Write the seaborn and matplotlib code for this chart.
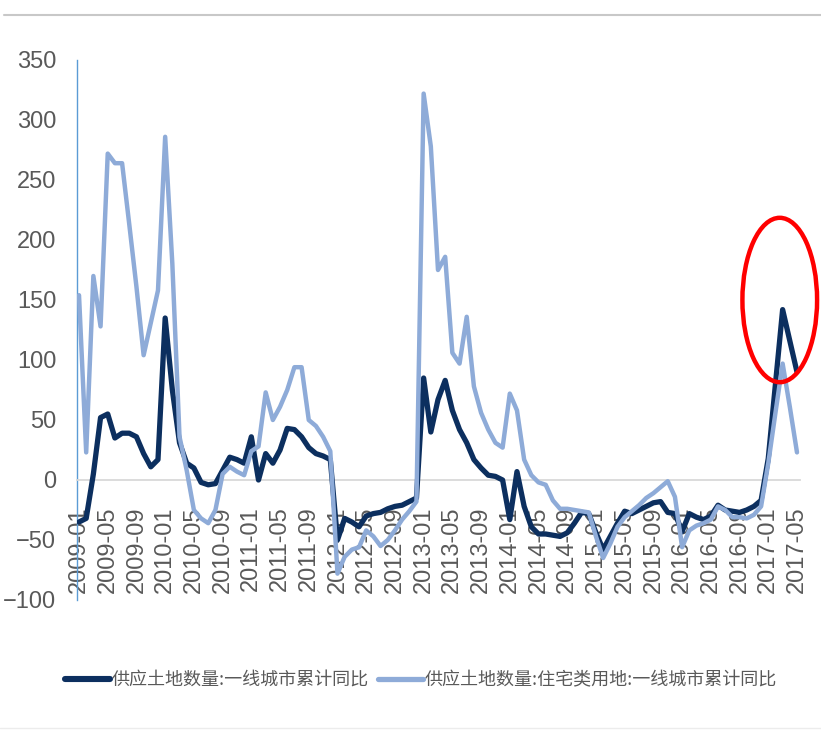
import matplotlib
matplotlib.use("Agg")
import matplotlib.pyplot as plt
from matplotlib.patches import Ellipse
from matplotlib.lines import Line2D
from matplotlib.font_manager import FontProperties
import pandas as pd
import seaborn as sns

# Monthly categories 2009-01 .. 2017-05
months = [f"{y}-{m:02d}" for y in range(2009, 2018) for m in range(1, 13)][:101]

tick_labels = [
    "2009-01", "2009-05", "2009-09", "2010-01", "2010-05", "2010-09",
    "2011-01", "2011-05", "2011-09", "2012-01", "2012-05", "2012-09",
    "2013-01", "2013-05", "2013-09", "2014-01", "2014-05", "2014-09",
    "2015-01", "2015-05", "2015-09", "2016-01", "2016-05", "2016-09",
    "2017-01", "2017-05",
]

name_all = "供应土地数量:一线城市累计同比"
name_res = "供应土地数量:住宅类用地:一线城市累计同比"

# Cumulative YoY (%), first-tier cities, all land supply
supply_all = [
    -35, -32, 5, 52, 55, 35, 39, 39, 36, 22, 11, 17,
    135, 75, 31, 14, 10, -2, -4, -3, 8, 19, 17, 14,
    36, 0, 22, 14, 25, 43, 42, 36, 27, 22, 20, 17,
    -50, -32, -35, -39, -30, -28, -27, -24, -22, -21, -18, -15,
    85, 40, 67, 83, 58, 42, 31, 17, 10, 4, 3, 0,
    -33, 7, -22, -39, -45, -45, -46, -47, -44, -36, -27, -28,
    -44, -58, -47, -36, -26, -28, -25, -22, -19, -18, -27, -28,
    -43, -28, -31, -33, -30, -21, -25, -26, -27, -25, -22, -17,
    18, 80, 142, 116, 90,
]

# Cumulative YoY (%), first-tier cities, residential land supply
supply_res = [
    154, 23, 170, 128, 272, 264, 264, 213, 161, 104, 131, 158,
    286, 180, 36, 8, -25, -32, -36, -25, 5, 11, 7, 4,
    24, 28, 73, 50, 61, 75, 94, 94, 50, 45, 36, 24,
    -78, -64, -58, -56, -42, -47, -55, -50, -42, -33, -26, -18,
    322, 278, 175, 186, 106, 97, 136, 78, 56, 42, 31, 27,
    72, 58, 17, 4, -2, -4, -17, -24, -24, -25, -26, -27,
    -47, -65, -53, -39, -31, -26, -21, -15, -11, -6, -1, -14,
    -56, -42, -38, -36, -33, -22, -25, -31, -31, -32, -29, -22,
    14, 56, 97, 61, 23,
]

colors = {name_all: "#0C2F5F", name_res: "#8EABD8"}
widths = {name_all: 3.8, name_res: 3.2}

long = pd.concat([
    pd.DataFrame({"idx": range(len(months)), "month": months,
                  "value": supply_all, "series": name_all}),
    pd.DataFrame({"idx": range(len(months)), "month": months,
                  "value": supply_res, "series": name_res}),
], ignore_index=True)

sns.set_style("white")
plt.rcParams["font.family"] = ["Liberation Sans", "Noto Sans CJK SC", "DejaVu Sans"]

W, H = 821, 731
fig = plt.figure(figsize=(W / 100, H / 100), dpi=100)
fig.patch.set_facecolor("white")
ax = fig.add_axes([77 / W, 131 / H, 723 / W, 540 / H])

sns.lineplot(data=long, x="idx", y="value", hue="series",
             hue_order=[name_all, name_res], palette=colors,
             legend=False, ax=ax, zorder=3)
for line, name in zip(ax.lines, [name_all, name_res]):
    line.set_linewidth(widths[name])
    line.set_solid_joinstyle("round")

ax.set_ylim(-100, 350)
ax.set_yticks(range(-100, 351, 50))
ax.set_xlim(-0.28, 100.42)
ax.set_xticks(range(0, len(months), 4))
ax.set_xticklabels(tick_labels)
ax.set_xlabel("")
ax.set_ylabel("")
ax.grid(False)

for side in ("top", "right"):
    ax.spines[side].set_visible(False)
ax.spines["left"].set_color("#5B9BD5")
ax.spines["left"].set_linewidth(1.0)
ax.spines["bottom"].set_position(("data", 0))
ax.spines["bottom"].set_color("#D9D9D9")
ax.spines["bottom"].set_linewidth(1.3)

ax.tick_params(axis="y", length=5, width=1, color="#A6A6A6", pad=10,
               labelsize=17, labelcolor="#595959")
ax.tick_params(axis="x", length=3, width=1, color="#D9D9D9", pad=16,
               labelsize=17, labelcolor="#595959", labelrotation=90)
for lab in ax.get_xticklabels():
    lab.set_horizontalalignment("center")
    lab.set_verticalalignment("top")

# highlight around the 2017 surge
ax.add_patch(Ellipse((97.6, 150), 10.4, 137, fill=False,
                     edgecolor="#FF0000", lw=3.2, clip_on=False, zorder=5))

handles = [Line2D([], [], color=colors[n], lw=widths[n] + 0.6) for n in (name_all, name_res)]
fig.legend(handles, [name_all, name_res], loc="center",
           bbox_to_anchor=(0.513, 1 - 680 / H), ncol=2, frameon=False,
           handlelength=2.5, handletextpad=0.1, columnspacing=0.5,
           prop=FontProperties(family=["Noto Sans CJK SC", "DejaVu Sans"], size=13),
           labelcolor="#595959")

# thin page rules
fig.add_artist(Line2D([0.005, 1.0], [1 - 15 / H] * 2, color="#C8C8C8", lw=1.5,
                      transform=fig.transFigure))
fig.add_artist(Line2D([0.0, 1.0], [1 - 728 / H] * 2, color="#ECECEC", lw=1.0,
                      transform=fig.transFigure))

fig.savefig("out.png", dpi=100, facecolor="white")
